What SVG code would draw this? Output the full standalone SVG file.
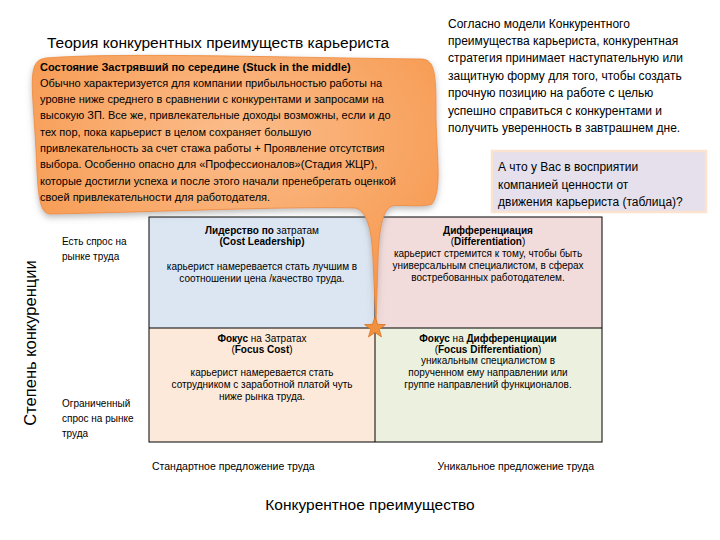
<svg xmlns="http://www.w3.org/2000/svg" width="720" height="540" viewBox="0 0 720 540">
<defs>
<radialGradient id="og" cx="0.5" cy="0.3" r="0.8">
<stop offset="0" stop-color="#fbbd8c"/>
<stop offset="0.6" stop-color="#f8a25e"/>
<stop offset="1" stop-color="#f38d3e"/>
</radialGradient>
<filter id="sh" x="-10%" y="-10%" width="120%" height="130%">
<feDropShadow dx="0" dy="3" stdDeviation="3" flood-color="#777" flood-opacity="0.5"/>
</filter>
<style>
text{font-family:"Liberation Sans",Arial,sans-serif;fill:#000}
.cell{font-size:10px}
.b{font-weight:bold}
.co{font-size:11px}
.rt{font-size:12px}
.lab{font-size:10px}
.ax{font-size:15.5px}
</style>
</defs>
<rect width="720" height="540" fill="#fff"/>

<g id="title"><text x="47" y="48" style="font-size:15.5px">Теория конкурентных преимуществ карьериста</text></g>

<g id="intro">
<text class="rt" x="448"><tspan x="448" y="28">Согласно модели Конкурентного</tspan><tspan x="448" y="45">преимущества карьериста, конкурентная</tspan><tspan x="448" y="62">стратегия принимает наступательную или</tspan><tspan x="448" y="80">защитную форму для того, чтобы создать</tspan><tspan x="448" y="97">прочную позицию на работе с целью</tspan><tspan x="448" y="115">успешно справиться с конкурентами и</tspan><tspan x="448" y="132">получить уверенность в завтрашнем дне.</tspan></text>
</g>

<g id="question">
<rect x="492" y="151" width="214" height="61" fill="#e5e0ec" stroke="#fbe3d0" stroke-width="2.5"/>
<text class="rt"><tspan x="498" y="171">А что у Вас в восприятии</tspan><tspan x="498" y="189">компанией ценности  от</tspan><tspan x="498" y="206">движения  карьериста (таблица)?</tspan></text>
</g>

<g id="matrix">
<rect x="149" y="217" width="226" height="111" fill="#dce6f2"/>
<rect x="375" y="217" width="227" height="111" fill="#f2dcdb"/>
<rect x="149" y="328" width="226" height="114" fill="#fde9d9"/>
<rect x="375" y="328" width="227" height="114" fill="#ebf1de"/>
<rect x="149" y="217" width="453" height="225" fill="none" stroke="#000" stroke-width="1"/>
<line x1="149" y1="328" x2="602" y2="328" stroke="#000" stroke-width="1"/>
<line x1="375" y1="217" x2="375" y2="442" stroke="#000" stroke-width="1"/>
</g>

<g id="cost-leadership" class="cell" text-anchor="middle">
<text x="262" y="234"><tspan class="b">Лидерство по</tspan> затратам</text>
<text x="262" y="245" class="b">(Cost Leadership)</text>
<text x="262" y="270">карьерист намеревается стать лучшим  в</text>
<text x="262" y="282">соотношении цена /качество труда.</text>
</g>

<g id="differentiation" class="cell" text-anchor="middle">
<text x="488" y="234" class="b">Дифференциация</text>
<text x="488" y="245">(<tspan class="b">Differentiation</tspan>)</text>
<text x="488" y="257">карьерист стремится к тому, чтобы быть</text>
<text x="488" y="269">универсальным специалистом, в сферах</text>
<text x="488" y="281">востребованных работодателем.</text>
</g>

<g id="focus-cost" class="cell" text-anchor="middle">
<text x="262" y="342"><tspan class="b">Фокус</tspan> на Затратах</text>
<text x="262" y="353">(<tspan class="b">Focus Cost</tspan>)</text>
<text x="262" y="376">карьерист намеревается стать</text>
<text x="262" y="388">сотрудником с заработной платой чуть</text>
<text x="262" y="400">ниже рынка труда.</text>
</g>

<g id="focus-differentiation" class="cell" text-anchor="middle">
<text x="488" y="342"><tspan class="b">Фокус</tspan> на <tspan class="b">Дифференциации</tspan></text>
<text x="488" y="353">(<tspan class="b">Focus Differentiation</tspan>)</text>
<text x="488" y="364">уникальным специалистом в</text>
<text x="488" y="376">порученном ему направлении или</text>
<text x="488" y="388">группе направлений функционалов.</text>
</g>

<g id="row-labels" class="lab">
<text><tspan x="62" y="245">Есть спрос  на</tspan><tspan x="62" y="260">рынке труда</tspan></text>
<text><tspan x="62" y="407">Ограниченный</tspan><tspan x="62" y="422">спрос на рынке</tspan><tspan x="62" y="437">труда</tspan></text>
</g>

<g id="y-axis"><text class="ax" transform="translate(36 343) rotate(-90)" text-anchor="middle" style="font-size:16.5px">Степень конкуренции</text></g>

<g id="col-labels" class="lab">
<text x="152" y="470" style="font-size:10.5px">Стандартное предложение труда</text>
<text x="594" y="470" text-anchor="end" style="font-size:10.5px">Уникальное предложение труда</text>
</g>

<g id="x-axis"><text class="ax" x="370" y="510" text-anchor="middle">Конкурентное преимущество</text></g>

<g id="connectors">
<g id="callout" filter="url(#sh)">
<path d="M 46 58 C 120 52 300 58 422 59 C 436 60 436 76 436 120 C 437 160 442 190 432 204 C 420 208 400 204 392 206 C 382 210 379 230 378 260 L 376 326 L 373 260 C 372 232 368 212 356 208 C 300 206 150 212 50 214 C 38 213 38 190 36 150 C 34 110 30 80 34 68 C 36 61 40 59 46 58 Z" fill="url(#og)" stroke="#ef8a3a" stroke-width="0.8"/>
</g>
<polygon id="star" points="375,317 377.65,324.36 385.46,324.6 379.28,329.39 381.47,336.9 375,332.5 368.53,336.9 370.72,329.39 364.54,324.6 372.35,324.36" fill="#f0913f" stroke="#d8731f" stroke-width="0.8"/>
</g>

<g id="callout-text" class="co">
<text x="40" y="71" class="b">Состояние Застрявший по середине (Stuck in the middle)</text>
<text><tspan x="40" y="87">Обычно характеризуется для компании прибыльностью работы на</tspan><tspan x="40" y="103">уровне ниже среднего в сравнении с конкурентами и запросами на</tspan><tspan x="40" y="119">высокую ЗП.  Все же, привлекательные доходы возможны, если и до</tspan><tspan x="40" y="136">тех пор, пока карьерист в целом сохраняет большую</tspan><tspan x="40" y="152">привлекательность за счет стажа работы + Проявление отсутствия</tspan><tspan x="40" y="168">выбора. Особенно опасно для «Профессионалов»(Стадия ЖЦР),</tspan><tspan x="40" y="185">которые достигли успеха и после этого начали пренебрегать оценкой</tspan><tspan x="40" y="201">своей привлекательности для работодателя.</tspan></text>
</g>
</svg>
